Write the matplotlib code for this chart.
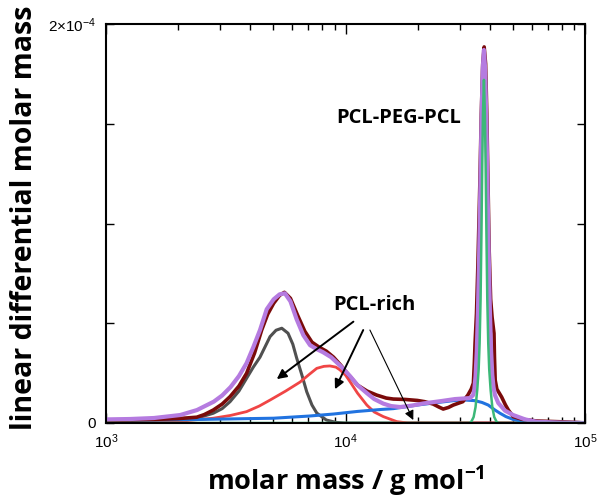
import numpy as np
import matplotlib
matplotlib.use("Agg")
import matplotlib.pyplot as plt
from matplotlib.ticker import FixedLocator, FixedFormatter, LogLocator, NullFormatter

plt.rcParams['mathtext.fontset'] = 'custom'
plt.rcParams['mathtext.rm'] = 'Liberation Sans'
plt.rcParams['mathtext.it'] = 'Liberation Sans:italic'
plt.rcParams['mathtext.bf'] = 'Open Sans:bold'

# x as log10(M / g mol^-1), y in units of 1e-4
gray_x = [3.00, 3.20, 3.30, 3.379, 3.448, 3.485, 3.518, 3.555, 3.587, 3.615, 3.643, 3.685,
          3.71, 3.734, 3.76, 3.78, 3.796, 3.818, 3.838, 3.86, 3.88, 3.92, 3.96, 4.00, 5.00]
gray_y = [0.0, 0.003, 0.01, 0.024, 0.049, 0.072, 0.107, 0.16, 0.224, 0.28, 0.33, 0.433,
          0.465, 0.475, 0.45, 0.395, 0.326, 0.24, 0.157, 0.09, 0.05, 0.015, 0.003, 0.0, 0.0]

red_x = [3.00, 3.20, 3.30, 3.448, 3.52, 3.587, 3.64, 3.685, 3.75, 3.81, 3.85, 3.88, 3.91,
         3.935, 3.96, 3.977, 4.00, 4.019, 4.05, 4.089, 4.12, 4.158, 4.214, 4.26, 5.00]
red_y = [0.0, 0.004, 0.008, 0.024, 0.038, 0.057, 0.085, 0.115, 0.16, 0.205, 0.245, 0.274,
         0.284, 0.286, 0.28, 0.266, 0.24, 0.207, 0.15, 0.09, 0.055, 0.032, 0.007, 0.0, 0.0]

blue_x = [3.00, 3.40, 3.70, 3.85, 3.95, 4.05, 4.15, 4.20, 4.30, 4.40, 4.457, 4.50, 4.54,
          4.57, 4.596, 4.624, 4.645, 4.67, 4.70, 4.742, 4.80, 5.00]
blue_y = [0.012, 0.018, 0.024, 0.035, 0.045, 0.058, 0.068, 0.072, 0.09, 0.105, 0.113, 0.115,
          0.112, 0.103, 0.09, 0.065, 0.049, 0.032, 0.018, 0.007, 0.001, 0.0]

green_x = [3.00, 4.518, 4.526, 4.535, 4.543, 4.550, 4.556, 4.560, 4.564, 4.5676, 4.571,
           4.574, 4.578, 4.582, 4.585, 4.5884, 4.592, 4.596, 4.600, 4.606, 4.613, 4.621,
           4.630, 4.638, 5.00]
green_y = [0.0, 0.0, 0.008, 0.03, 0.08, 0.165, 0.27, 0.40, 0.62, 0.95, 1.3,
           1.55, 1.72, 1.55, 1.3, 0.95, 0.62, 0.40, 0.27, 0.165, 0.08, 0.03,
           0.008, 0.0, 0.0]

exp_x = [3.00, 3.20, 3.30, 3.379, 3.41, 3.448, 3.485, 3.518, 3.555, 3.587, 3.62, 3.65, 3.675,
         3.70, 3.725, 3.745, 3.77, 3.80, 3.83, 3.86, 3.89, 3.92, 3.95, 3.98, 4.01, 4.05,
         4.09, 4.13, 4.17, 4.20, 4.25, 4.30, 4.33, 4.366, 4.39, 4.408, 4.43, 4.45, 4.49,
         4.511, 4.525, 4.534, 4.538, 4.541, 4.547, 4.553, 4.561, 4.567, 4.573, 4.579, 4.585,
         4.59, 4.595, 4.60, 4.606, 4.612, 4.617, 4.620, 4.622, 4.625, 4.632, 4.652, 4.668,
         4.68, 4.70, 4.74, 4.80, 4.90, 4.96, 5.00]
exp_y = [0.012, 0.018, 0.022, 0.029, 0.042, 0.065, 0.095, 0.132, 0.185, 0.249, 0.35, 0.466,
         0.545, 0.60, 0.64, 0.655, 0.625, 0.54, 0.46, 0.405, 0.38, 0.36, 0.33, 0.29, 0.245,
         0.19, 0.16, 0.14, 0.125, 0.12, 0.118, 0.113, 0.107, 0.095, 0.08, 0.07, 0.078, 0.09,
         0.107, 0.14, 0.17, 0.2, 0.3, 0.4, 0.55, 0.8, 1.2, 1.55, 1.8, 1.885, 1.8, 1.55, 1.2,
         0.86, 0.62, 0.53, 0.48, 0.45, 0.33, 0.215, 0.17, 0.13, 0.09, 0.065, 0.032, 0.018,
         0.01, 0.006, 0.003, 0.0]

fit_x = [3.00, 3.10, 3.20, 3.31, 3.38, 3.45, 3.485, 3.52, 3.555, 3.587, 3.615, 3.643, 3.671,
         3.70, 3.725, 3.747, 3.77, 3.796, 3.824, 3.852, 3.88, 3.906, 3.94, 3.98, 4.019, 4.05,
         4.089, 4.12, 4.158, 4.19, 4.228, 4.28, 4.325, 4.40, 4.457, 4.52, 4.533, 4.538,
         4.543, 4.548, 4.553, 4.558, 4.563, 4.568, 4.573, 4.578, 4.583, 4.588, 4.593, 4.598,
         4.603, 4.608, 4.613, 4.618, 4.624, 4.638, 4.666, 4.70, 4.75, 4.80, 4.90, 5.00]
fit_y = [0.018, 0.02, 0.025, 0.04, 0.065, 0.107, 0.138, 0.18, 0.235, 0.30, 0.38, 0.466, 0.57,
         0.62, 0.645, 0.65, 0.61, 0.52, 0.44, 0.39, 0.37, 0.355, 0.33, 0.285, 0.235, 0.19,
         0.15, 0.12, 0.097, 0.085, 0.08, 0.088, 0.098, 0.11, 0.12, 0.125, 0.14, 0.17,
         0.235, 0.357, 0.556, 0.84, 1.18, 1.52, 1.775, 1.87, 1.775, 1.52, 1.18, 0.84,
         0.556, 0.36, 0.24, 0.18, 0.14, 0.1, 0.062, 0.04, 0.018, 0.006, 0.002, 0.0]

scale = 1e-4

fig = plt.figure(figsize=(5.98, 5.01), dpi=100)
ax = fig.add_axes([106 / 598, 78 / 501, 479 / 598, 399 / 501])

def plot_curve(xs, ys, color, lw):
    ax.plot(10 ** np.array(xs), np.array(ys) * scale, color=color, lw=lw,
            solid_capstyle='round', solid_joinstyle='round')

plot_curve(gray_x, gray_y, '#505050', 2.2)
plot_curve(red_x, red_y, '#f04545', 2.0)
plot_curve(blue_x, blue_y, '#2173e0', 2.2)
plot_curve(exp_x, exp_y, '#7a0a0a', 2.6)
plot_curve(fit_x, fit_y, '#b57be0', 3.0)
plot_curve(green_x, green_y, '#3cb878', 1.8)

ax.set_xscale('log')
ax.set_xlim(1e3, 1e5)
ax.set_ylim(0, 2e-4)

ax.xaxis.set_major_locator(LogLocator(base=10, numticks=5))
ax.xaxis.set_minor_locator(LogLocator(base=10, subs=np.arange(2, 10), numticks=20))
ax.xaxis.set_minor_formatter(NullFormatter())

ax.yaxis.set_major_locator(FixedLocator([0, 2e-4]))
ax.yaxis.set_major_formatter(FixedFormatter(['0', r'$2{\times}10^{-4}$']))
ax.yaxis.set_minor_locator(FixedLocator([0.5e-4, 1e-4, 1.5e-4]))

ax.tick_params(which='both', direction='in', top=True, right=True, width=1.0,
               labelsize=11, colors='black')
ax.tick_params(which='major', length=7, pad=7)
ax.tick_params(which='minor', length=4)
ax.tick_params(axis='y', which='both', length=6)
for lab in ax.get_xticklabels() + ax.get_yticklabels():
    lab.set_fontfamily('Liberation Sans')

for sp in ax.spines.values():
    sp.set_linewidth(1.5)

fig.text(346 / 598, 11 / 501, r'molar mass / g mol$^{\mathbf{-1}}$', ha='center',
         va='baseline', family='Open Sans', weight='bold', size=19.5)
fig.text(25 / 598, 283 / 501, 'linear differential molar mass', rotation=90,
         ha='center', va='center', family='Open Sans', weight='bold', size=20.5)

ann_font = dict(family='Open Sans', weight='bold', size=14.5)
ax.text(10 ** 4.22, 1.53e-4, 'PCL-PEG-PCL', ha='center', va='center', **ann_font)
ax.text(10 ** 4.119, 0.59e-4, 'PCL-rich', ha='center', va='center', **ann_font)

arrows = [((10 ** 4.033, 0.508e-4), (10 ** 3.713, 0.22e-4), 1.4),
          ((10 ** 4.074, 0.466e-4), (10 ** 3.956, 0.169e-4), 1.4),
          ((10 ** 4.102, 0.466e-4), (10 ** 4.283, 0.015e-4), 0.8)]
for start, end, lw in arrows:
    ax.annotate('', xy=end, xytext=start,
                arrowprops=dict(arrowstyle='-|>', color='black', lw=lw,
                                mutation_scale=14, shrinkA=0, shrinkB=0))

fig.savefig('out.png', dpi=100)
